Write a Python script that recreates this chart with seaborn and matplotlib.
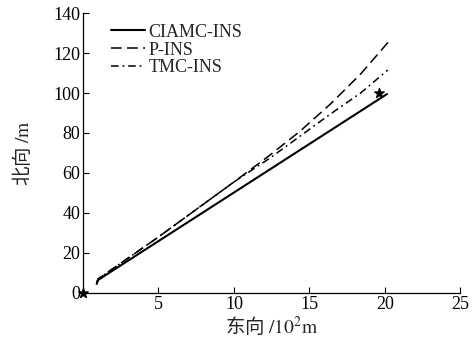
import numpy as np
import pandas as pd
import matplotlib
matplotlib.use('Agg')
import matplotlib.pyplot as plt
import seaborn as sns

# data (east in 10^2 m, north in m)
ciamc_x = [0.9, 1.0, 20.15]
ciamc_y = [4.5, 6.5, 99.5]
pins_x = [0.9, 1.0, 5.0, 10.0, 12.4, 14.4, 16.4, 18.4, 20.35]
pins_y = [5.0, 7.0, 28.0, 55.5, 69.0, 81.0, 94.5, 109.5, 126.5]
tmc_x = [0.9, 1.0, 5.0, 10.0, 12.4, 14.4, 16.4, 18.4, 20.2]
tmc_y = [5.0, 7.0, 28.0, 55.5, 67.5, 78.5, 89.5, 100.0, 111.5]
star_x = [0.0, 19.6]
star_y = [0.0, 100.0]

sns.set_style('ticks')
plt.rcParams['font.family'] = ['Liberation Serif', 'Noto Sans CJK SC', 'DejaVu Sans']
plt.rcParams['mathtext.fontset'] = 'stix'

fig = plt.figure(figsize=(4.72, 3.43), dpi=100)
ax = fig.add_axes([0.176, 0.146, 0.799, 0.816])

df_c = pd.DataFrame({'x': ciamc_x, 'y': ciamc_y})
df_p = pd.DataFrame({'x': pins_x, 'y': pins_y})
df_t = pd.DataFrame({'x': tmc_x, 'y': tmc_y})

sns.lineplot(data=df_c, x='x', y='y', ax=ax, color='black', lw=1.5,
             label='CIAMC-INS', sort=False)
sns.lineplot(data=df_p, x='x', y='y', ax=ax, color='black', lw=1.1,
             linestyle=(0, (7, 3.5)), label='P-INS', sort=False)
sns.lineplot(data=df_t, x='x', y='y', ax=ax, color='black', lw=1.1,
             linestyle=(0, (5, 2.5, 1.2, 2.5)), label='TMC-INS', sort=False)
ax.scatter(star_x, star_y, marker='*', s=50, color='black', zorder=5, clip_on=False)

ax.set_xlim(0, 25)
ax.set_ylim(0, 140)
ax.set_xticks([5, 10, 15, 20, 25])
ax.set_yticks(range(0, 141, 20))
ax.tick_params(direction='in', length=4, width=0.8, labelsize=13, colors='black', pad=2)
for s in ['top', 'right']:
    ax.spines[s].set_visible(False)
for s in ['left', 'bottom']:
    ax.spines[s].set_linewidth(0.9)
    ax.spines[s].set_color('black')

# CJK font first so the Chinese glyphs get a proper size, latin part via stix mathtext
cjk = ['Noto Sans CJK SC', 'Liberation Serif']
ax.set_xlabel('东向 $/\\mathrm{10^2m}$', fontsize=14, labelpad=2, family=cjk)
ax.set_ylabel('北向 $/\\mathrm{m}$', fontsize=14, labelpad=14, family=cjk)

leg = ax.legend(loc='upper left', frameon=False, fontsize=13, handlelength=1.9,
                labelspacing=0.05, handletextpad=0.2, bbox_to_anchor=(0.03, 1.02))

fig.savefig('out.png', dpi=100)
